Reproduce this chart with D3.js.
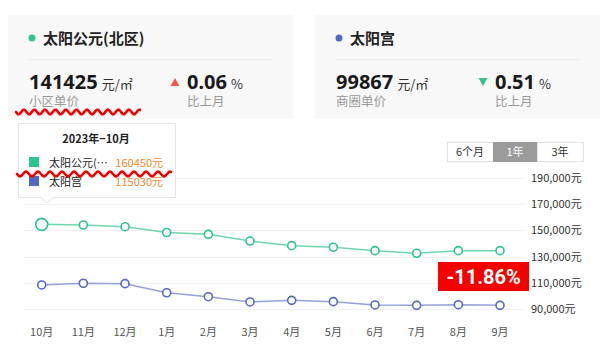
<!DOCTYPE html>
<html>
<head>
<meta charset="utf-8">
<script src="https://cdn.jsdelivr.net/npm/d3@7/dist/d3.min.js"></script>
<style>
  body { margin: 0; background: #fff; }
  svg { font-family: "Noto Sans CJK SC", "Noto Sans", sans-serif; display: block; }
  .grid { stroke: #f0f0f0; stroke-width: 1; }
</style>
</head>
<body>
<svg id="chart" width="600" height="353"></svg>
<script>
  // data
  var months = ['10月', '11月', '12月', '1月', '2月', '3月', '4月', '5月', '6月', '7月', '8月', '9月'];
  var parkValues = [154600, 154100, 152800, 148400, 147000, 141900, 138400, 137200, 134600, 132600, 134600, 134600];
  var areaValues = [108500, 109800, 109500, 102600, 99600, 95600, 96800, 95800, 93300, 93000, 93500, 93000];
  var yTicks = [90000, 110000, 130000, 150000, 170000, 190000];
  var ranges = ['6个月', '1年', '3年'];
  var tipTitle = '2023年−10月';
  var tipNames = ['太阳公元(…', '太阳宫'];
  var tipValues = ['160450元', '115030元'];

  var colors = { park: '#2ec48d', parkLine: '#6fd6ac', area: '#5368c4', areaLine: '#94a0dc' };

  var svg = d3.select('#chart');

  // ---- header cards
  var cards = [
    { x: 8, w: 285, dot: colors.park, name: '太阳公元(北区)', price: '141425', label: '小区单价', up: true, pct: '0.06' },
    { x: 315, w: 300, dot: colors.area, name: '太阳宫', price: '99867', label: '商圈单价', up: false, pct: '0.51' }
  ];
  cards.forEach(c => {
    var g = svg.append('g').attr('transform', `translate(${c.x},15)`);
    g.append('rect').attr('width', c.w).attr('height', 104).attr('fill', '#f8f8f8');
    g.append('circle').attr('cx', 24).attr('cy', 23).attr('r', 3.5).attr('fill', c.dot);
    g.append('text').attr('x', 35).attr('y', 28.5).attr('font-size', 15).attr('font-weight', 'bold')
      .attr('fill', '#222').text(c.name);
    g.append('line').attr('x1', 20).attr('x2', 265).attr('y1', 44.5).attr('y2', 44.5)
      .attr('stroke', '#ececec');
    var t = g.append('text').attr('x', 21).attr('y', 74).attr('fill', '#1a1a1a');
    t.append('tspan').attr('font-size', 20).attr('font-weight', 'bold')
      .attr('font-family', '"Noto Sans", sans-serif').text(c.price);
    t.append('tspan').attr('font-size', 13).attr('dx', 4).attr('fill', '#333').text('元/㎡');
    g.append('text').attr('x', 21).attr('y', 91).attr('font-size', 12.5).attr('fill', '#999').text(c.label);
    var tx = c.up ? 167 : 168;
    var tri = c.up ? `M${tx - 4.5},71 L${tx + 4.5},71 L${tx},63 Z` : `M${tx - 4.5},63 L${tx + 4.5},63 L${tx},71 Z`;
    g.append('path').attr('d', tri).attr('fill', c.up ? '#ef5a45' : '#2ec48d');
    var p = g.append('text').attr('x', tx + 12).attr('y', 74).attr('fill', '#1a1a1a');
    p.append('tspan').attr('font-size', 20).attr('font-weight', 'bold')
      .attr('font-family', '"Noto Sans", sans-serif').text(c.pct);
    p.append('tspan').attr('font-size', 13).attr('dx', 4).attr('fill', '#333').text('%');
    g.append('text').attr('x', tx + 12).attr('y', 91).attr('font-size', 12.5).attr('fill', '#999').text('比上月');
  });

  // ---- scales
  var x = d3.scalePoint().domain(months).range([41.7, 500]);
  var y = d3.scaleLinear().domain([90000, 190000]).range([309.3, 177.8]);

  // grid + right labels
  svg.selectAll('.grid').data(yTicks).enter().append('line')
    .attr('class', 'grid')
    .attr('x1', 23).attr('x2', 523)
    .attr('y1', d => Math.round(y(d)) + 0.5).attr('y2', d => Math.round(y(d)) + 0.5);
  svg.selectAll('.ylab').data(yTicks).enter().append('text')
    .attr('x', 531).attr('y', d => y(d) + 4)
    .attr('font-size', 11).attr('fill', '#333')
    .text(d => d3.format(',')(d) + '元');

  // x labels
  svg.selectAll('.xlab').data(months).enter().append('text')
    .attr('x', d => x(d)).attr('y', 336)
    .attr('text-anchor', 'middle').attr('font-size', 11).attr('fill', '#555')
    .text(d => d);

  // lines
  var line = d3.line().x((d, i) => x(months[i])).y(d => y(d));
  [[parkValues, colors.parkLine, colors.park], [areaValues, colors.areaLine, colors.area]].forEach(s => {
    svg.append('path').attr('d', line(s[0])).attr('fill', 'none')
      .attr('stroke', s[1]).attr('stroke-width', 1.5);
    svg.selectAll(null).data(s[0]).enter().append('circle')
      .attr('cx', (d, i) => x(months[i])).attr('cy', d => y(d))
      .attr('r', (d, i) => (i === 0 && s[0] === parkValues) ? 6 : 4)
      .attr('fill', '#fff').attr('stroke', s[2]).attr('stroke-width', 1.6);
  });

  // range buttons
  var bx = [447, 493, 537, 583];
  ranges.forEach((r, i) => {
    svg.append('rect').attr('x', bx[i] + 0.5).attr('y', 142.5).attr('width', bx[i + 1] - bx[i]).attr('height', 19)
      .attr('fill', i === 1 ? '#9b9b9b' : '#fff').attr('stroke', i === 1 ? '#9b9b9b' : '#e3e3e3');
    svg.append('text').attr('x', (bx[i] + bx[i + 1]) / 2).attr('y', 156).attr('text-anchor', 'middle')
      .attr('font-size', 11).attr('fill', i === 1 ? '#fff' : '#333').text(r);
  });

  // change badge
  svg.append('rect').attr('x', 438).attr('y', 262).attr('width', 91).attr('height', 29).attr('fill', '#f50000');
  svg.append('text').attr('x', 483.5).attr('y', 283.5).attr('text-anchor', 'middle')
    .attr('font-size', 20).attr('font-weight', 'bold').attr('fill', '#fff')
    .attr('font-family', 'Roboto, "Noto Sans", sans-serif').text('-11.86%');

  // tooltip
  var tip = svg.append('g');
  tip.append('path')
    .attr('d', 'M18.5,123.5 H175.5 V197.5 H53 L47,203 L41,197.5 H18.5 Z')
    .attr('fill', '#fff').attr('stroke', '#e6e6e6');
  tip.append('text').attr('x', 96).attr('y', 143).attr('text-anchor', 'middle')
    .attr('font-size', 11).attr('font-weight', 'bold').attr('fill', '#222').text(tipTitle);
  [colors.park, colors.area].forEach((c, i) => {
    var yy = 157 + i * 19;
    tip.append('rect').attr('x', 29).attr('y', yy).attr('width', 10).attr('height', 10).attr('fill', c);
    tip.append('text').attr('x', 49).attr('y', yy + 10).attr('font-size', 11).attr('fill', '#222').text(tipNames[i]);
    tip.append('text').attr('x', 163).attr('y', yy + 10).attr('text-anchor', 'end')
      .attr('font-size', 11).attr('fill', '#f08a2c').text(tipValues[i]);
  });

  // red hand-drawn squiggles
  function squiggle(x0, x1, yc, amp, step) {
    var pts = [];
    for (var xx = x0; xx <= x1; xx += 1) pts.push([xx, yc + amp * Math.sin((xx - x0) / step * Math.PI * 2)]);
    return d3.line()(pts);
  }
  svg.append('path').attr('d', squiggle(16, 140, 112, 2.3, 10.5)).attr('fill', 'none')
    .attr('stroke', '#f00000').attr('stroke-width', 2.6).attr('stroke-linecap', 'round');
  svg.append('path').attr('d', squiggle(17, 171, 174, 2.3, 12)).attr('fill', 'none')
    .attr('stroke', '#f00000').attr('stroke-width', 2.6).attr('stroke-linecap', 'round');
</script>
</body>
</html>
